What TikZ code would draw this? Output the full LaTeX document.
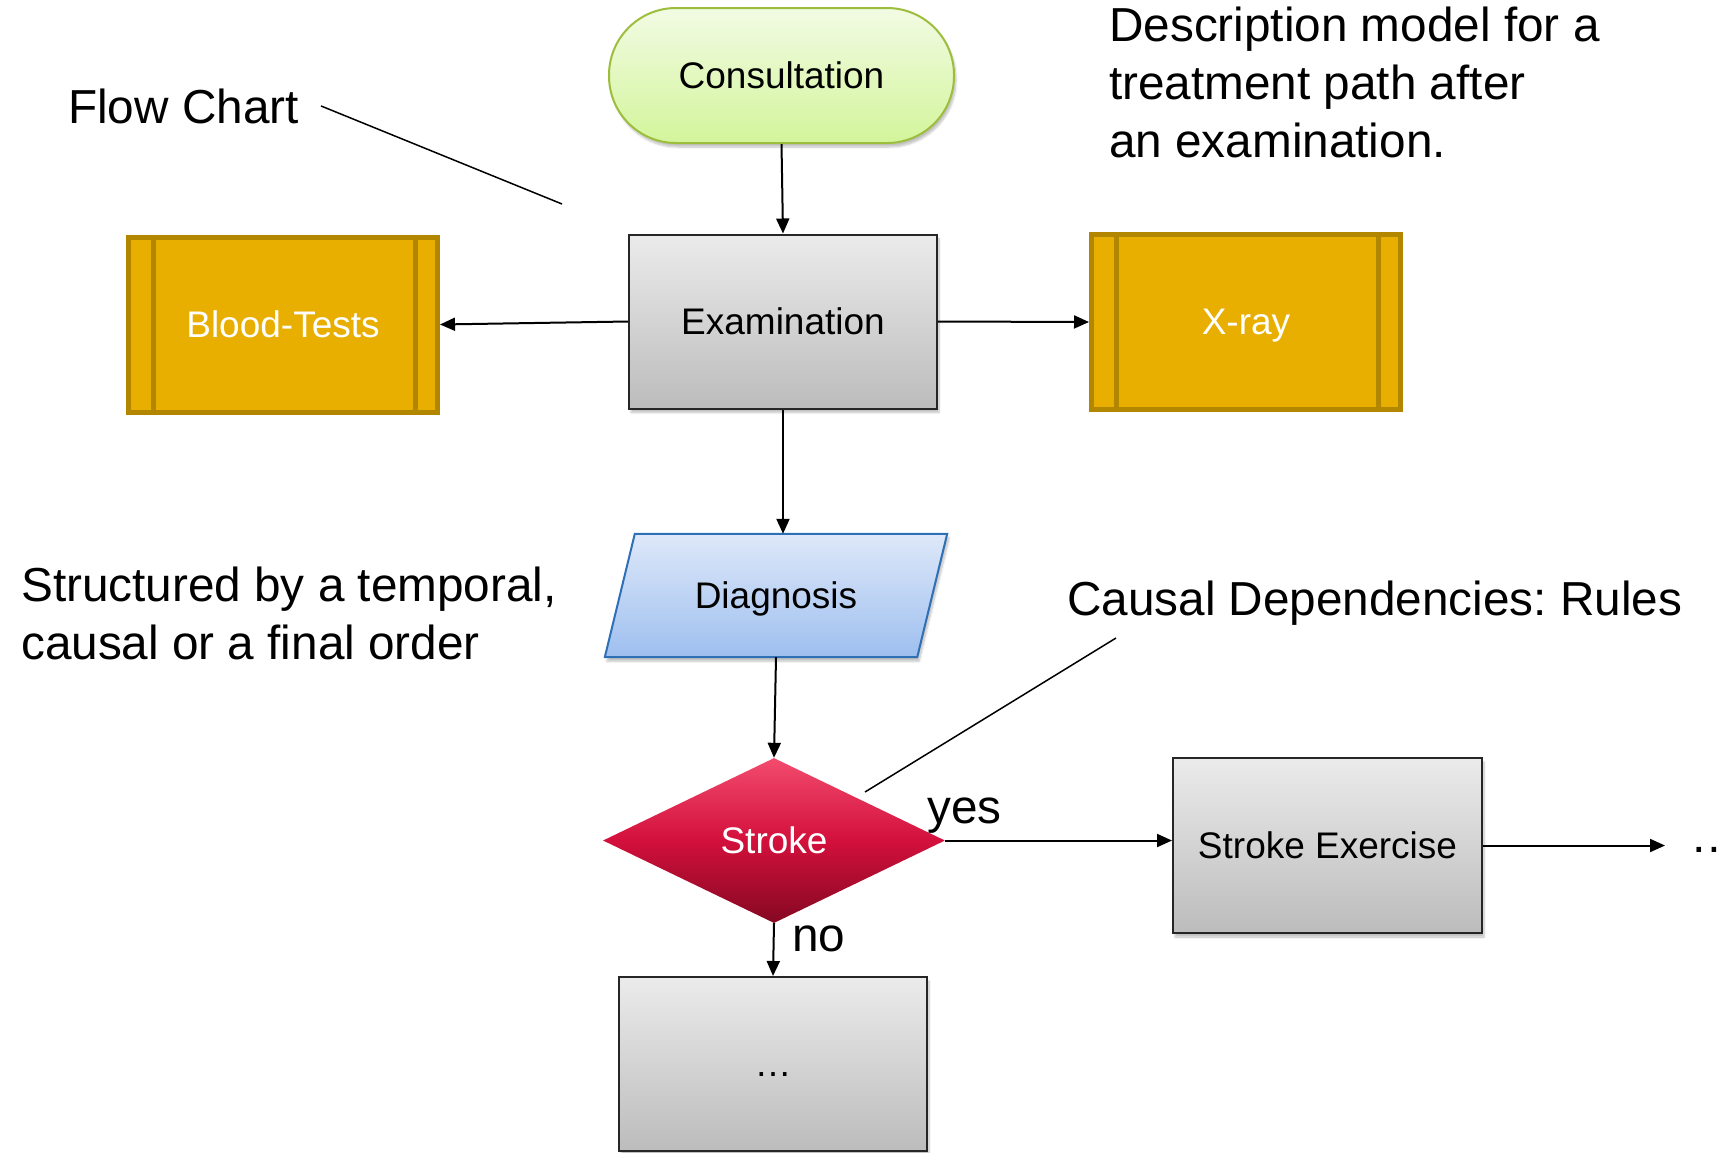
\documentclass[tikz,border=0pt]{standalone}
\usepackage{fontspec}
\setmainfont{Liberation Sans}
\usetikzlibrary{arrows.meta,shapes.geometric,shadows.blur,backgrounds}
\frenchspacing

\definecolor{consTop}{HTML}{F2FBE4}
\definecolor{consBot}{HTML}{D3F59B}
\definecolor{consLine}{HTML}{9DBE3C}
\definecolor{boxTop}{HTML}{EBEBEB}
\definecolor{boxBot}{HTML}{BCBCBC}
\definecolor{boxLine}{HTML}{262626}
\definecolor{gold}{HTML}{E8AE00}
\definecolor{goldLine}{HTML}{B38600}
\definecolor{diagTop}{HTML}{DEE8F9}
\definecolor{diagBot}{HTML}{9EBFEF}
\definecolor{diagLine}{HTML}{2F6FB5}
\definecolor{strokeTop}{HTML}{F24B6E}
\definecolor{strokeMid}{HTML}{D3103C}
\definecolor{strokeBot}{HTML}{850822}

\newcommand\boxfont{\fontsize{37}{44}\selectfont}
\newcommand\notefont{\fontsize{47.7}{58}\selectfont}

\begin{document}
\begin{tikzpicture}[x=1pt,y=-1pt,
  softshadow/.style={blur shadow={shadow xshift=2pt,shadow yshift=-4pt,shadow blur steps=6,shadow opacity=25}},
  boxtext/.style={inner sep=0pt, font=\boxfont, text depth=0pt},
  terminal/.style={rectangle, rounded corners=67pt, draw=consLine, line width=2pt,
    top color=consTop, bottom color=consBot, minimum width=345pt, minimum height=135pt,
    boxtext, softshadow},
  greybox/.style={rectangle, draw=boxLine, line width=2pt, top color=boxTop, bottom color=boxBot,
    minimum width=308pt, minimum height=174pt, boxtext, softshadow},
  process/.style={rectangle, draw=goldLine, fill=gold, line width=5pt, minimum width=309pt,
    minimum height=175pt, boxtext, text=white},
  sidebar/.style={draw=goldLine, line width=5pt},
  datatext/.style={rectangle, minimum width=312pt, minimum height=123pt, boxtext},
  datashape/.style={draw=diagLine, line width=2pt, top color=diagTop, bottom color=diagBot, softshadow},
  decision/.style={diamond, aspect=2.07, minimum width=342pt, minimum height=165pt, boxtext,
    top color=strokeTop, bottom color=strokeBot, middle color=strokeMid, text=white},
  flow/.style={line width=2pt, -{Triangle[length=15pt,width=13pt]}},
  note/.style={font=\notefont, inner sep=0pt, align=left},
  pointer/.style={line width=1.5pt}
]
\useasboundingbox (0,0) rectangle (1721,1152);

% flow chart shapes
\node[terminal] (cons) at (781.5,75.5) {Consultation};
\node[greybox] (exam) at (783,321.5) {Examination};
\node[process] (bt) at (283,324.5) {Blood-Tests};
\node[process] (xray) at (1246,322) {X-ray};
\node[datatext] (diag) at (776,595.5) {Diagnosis};
\node[decision] (stroke) at (774,840.5) {Stroke};
\node[greybox, minimum width=309pt, minimum height=175pt] (se) at (1327.5,845.5) {Stroke Exercise};
\node[greybox] (more) at (773,1064) {\raisebox{-12pt}[0pt][0pt]{…}};

% the data (parallelogram) outline behind the Diagnosis text
\begin{scope}[on background layer]
  \path[datashape] ([xshift=15pt]diag.north west) -- ([xshift=15pt]diag.north east)
    -- ([xshift=-15pt]diag.south east) -- ([xshift=-15pt]diag.south west) -- cycle;
\end{scope}

% double side bars of the predefined-process boxes
\draw[sidebar] ([xshift=27pt]bt.north west) -- ([xshift=27pt]bt.south west);
\draw[sidebar] ([xshift=-25pt]bt.north east) -- ([xshift=-25pt]bt.south east);
\draw[sidebar] ([xshift=27pt]xray.north west) -- ([xshift=27pt]xray.south west);
\draw[sidebar] ([xshift=-25pt]xray.north east) -- ([xshift=-25pt]xray.south east);

% connectors
\coordinate (tail) at (1665,846);
\draw[flow] (cons.south) -- (exam.north);
\draw[flow] (exam.west) -- (bt.east);
\draw[flow] (exam.east) -- (xray.west);
\draw[flow] (exam.south) -- (exam.south |- diag.north);
\draw[flow] (diag.south) -- (stroke.north);
\draw[flow] (stroke.east) -- (stroke.east -| se.west);
\draw[flow] (se.east) -- (se.east -| tail);
\draw[flow] (stroke.south) -- (more.north);
\node[note, anchor=base west] (etc) at (1690,852) {…};

% branch labels
\node[note, anchor=base west] (yes) at (927,823) {yes};
\node[note, anchor=base west] (no) at (792,951) {no};

% annotations
\node[note, anchor=base west] (flowlbl) at (68,123) {Flow Chart};
\node[note, anchor=base west] (desc) at (1109,157) {Description model for a\\treatment path after\\an examination.};
\node[note, anchor=base west] (struct) at (21,659) {Structured by a temporal,\\causal or a final order};
\node[note, anchor=base west] (causal) at (1067,615) {Causal Dependencies: Rules};

\coordinate (fcend) at (562,204);
\coordinate (cdstart) at (1116,638);
\coordinate (cdend) at (865,792);
\draw[pointer] ([xshift=22pt]flowlbl.east) -- (fcend);
\draw[pointer] (cdstart) -- (cdend);
\end{tikzpicture}
\end{document}
